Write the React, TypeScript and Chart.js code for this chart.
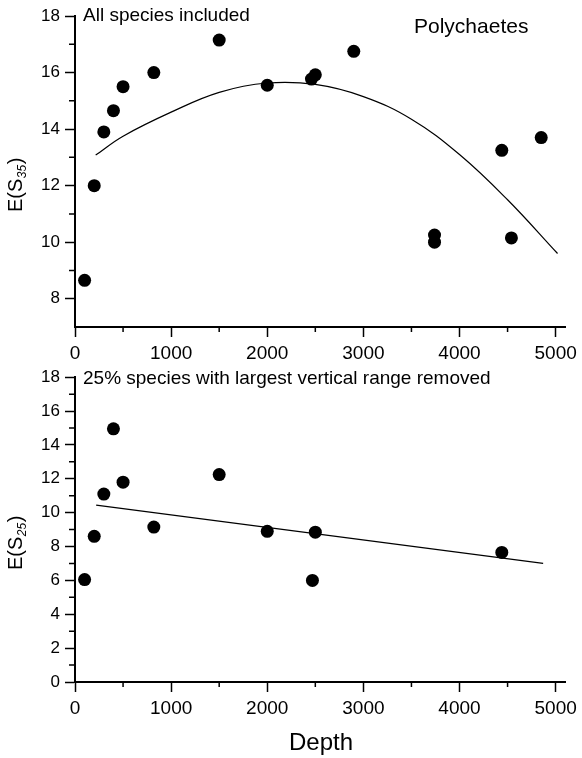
import React, { useEffect, useRef } from 'react';
import { Chart, registerables } from 'chart.js';

Chart.register(...registerables);

const FONT = "'Liberation Sans', Arial, Helvetica, sans-serif";

// ---- shared x axis ----
const xTicks = [0, 1000, 2000, 3000, 4000, 5000];
const xMinorTicks = [500, 1500, 2500, 3500, 4500];

// ---- top panel: all species included ----
const topDepth = [100, 200, 300, 400, 500, 820, 1500, 2000, 2460, 2500, 2900, 3740, 3740, 4440, 4540, 4850];
const topES35 = [8.65, 12.0, 13.9, 14.65, 15.5, 16.0, 17.15, 15.55, 15.77, 15.92, 16.75, 10.25, 10.0, 13.25, 10.15, 13.7];
const topFitDepth = [215, 500, 1000, 1500, 2000, 2500, 3000, 3500, 4000, 4500, 5020];
const topFitES35 = [13.08, 13.75, 14.6, 15.3, 15.63, 15.58, 15.15, 14.35, 13.1, 11.5, 9.6];
const topYTicks = [8, 10, 12, 14, 16, 18];
const topYMinor = [9, 11, 13, 15, 17];

// ---- bottom panel: 25% species removed ----
const botDepth = [100, 200, 300, 400, 500, 820, 1500, 2000, 2470, 2500, 4440];
const botES25 = [6.05, 8.6, 11.1, 14.95, 11.8, 9.15, 12.25, 8.9, 6.0, 8.85, 7.65];
const botFitDepth = [220, 4870];
const botFitES25 = [10.45, 7.0];
const botYTicks = [0, 2, 4, 6, 8, 10, 12, 14, 16, 18];
const botYMinor = [1, 3, 5, 7, 9, 11, 13, 15, 17];

function drawYTitle(ctx: CanvasRenderingContext2D, x: number, yBottom: number, sub: string) {
  ctx.save();
  ctx.translate(x, yBottom);
  ctx.rotate(-Math.PI / 2);
  ctx.fillStyle = '#000';
  ctx.textAlign = 'left';
  ctx.textBaseline = 'alphabetic';
  ctx.font = `20px ${FONT}`;
  ctx.fillText('E(S', 0, 0);
  let w = ctx.measureText('E(S').width + 0.5;
  ctx.font = `italic 12px ${FONT}`;
  ctx.fillText(sub, w, 4);
  w += ctx.measureText(sub).width + 0.5;
  ctx.font = `20px ${FONT}`;
  ctx.fillText(')', w, 0);
  ctx.restore();
}

type PanelProps = {
  height: number;
  top: number;
  padTop: number;
  xAxisHeight: number;
  depth: number[];
  values: number[];
  fitDepth: number[];
  fitValues: number[];
  fitTension: number;
  yMin: number;
  yMax: number;
  yTicks: number[];
  yMinor: number[];
  decorate: (ctx: CanvasRenderingContext2D) => void;
};

function Panel(p: PanelProps) {
  const ref = useRef<HTMLCanvasElement | null>(null);
  useEffect(() => {
    if (!ref.current) return;
    const minorPlugin = {
      id: 'minorTicksAndText',
      afterDraw(chart: any) {
        const ctx = chart.ctx as CanvasRenderingContext2D;
        const xs = chart.scales.x;
        const ys = chart.scales.y;
        const area = chart.chartArea;
        ctx.save();
        ctx.strokeStyle = '#000';
        ctx.lineWidth = 1.5;
        ctx.beginPath();
        xMinorTicks.forEach((v) => {
          const px = xs.getPixelForValue(v);
          ctx.moveTo(px, area.bottom);
          ctx.lineTo(px, area.bottom + 5);
        });
        p.yMinor.forEach((v) => {
          const py = ys.getPixelForValue(v);
          ctx.moveTo(area.left - 6, py);
          ctx.lineTo(area.left, py);
        });
        ctx.stroke();
        ctx.restore();
        p.decorate(ctx);
      },
    };
    const chart = new Chart(ref.current, {
      type: 'scatter',
      data: {
        datasets: [
          {
            data: p.depth.map((x, i) => ({ x, y: p.values[i] })),
            backgroundColor: '#000',
            borderColor: '#000',
            borderWidth: 0,
            pointRadius: 6.5,
            showLine: false,
          },
          {
            data: p.fitDepth.map((x, i) => ({ x, y: p.fitValues[i] })),
            showLine: true,
            borderColor: '#000',
            borderWidth: 1.2,
            pointRadius: 0,
            tension: p.fitTension,
            fill: false,
          },
        ],
      },
      options: {
        responsive: false,
        animation: false,
        devicePixelRatio: 1,
        layout: { padding: { left: 0, top: p.padTop, right: 12, bottom: 0 } },
        plugins: { legend: { display: false }, tooltip: { enabled: false }, title: { display: false } },
        scales: {
          x: {
            type: 'linear',
            min: 0,
            max: 5100,
            afterBuildTicks: (scale: any) => {
              scale.ticks = xTicks.map((v) => ({ value: v }));
            },
            afterFit: (scale: any) => {
              scale.height = p.xAxisHeight;
            },
            grid: { drawOnChartArea: false, drawTicks: true, tickLength: 10, tickColor: '#000', tickWidth: 1.5 },
            border: { display: true, color: '#000', width: 2 },
            ticks: {
              color: '#000',
              padding: 5,
              maxRotation: 0,
              autoSkip: false,
              font: { family: FONT, size: 19 },
              callback: (v: any) => String(v),
            },
          },
          y: {
            type: 'linear',
            min: p.yMin,
            max: p.yMax,
            afterBuildTicks: (scale: any) => {
              scale.ticks = p.yTicks.map((v) => ({ value: v }));
            },
            afterFit: (scale: any) => {
              scale.width = 75;
            },
            grid: { drawOnChartArea: false, drawTicks: true, tickLength: 10, tickColor: '#000', tickWidth: 1.5 },
            border: { display: true, color: '#000', width: 2 },
            ticks: {
              color: '#000',
              padding: 5,
              autoSkip: false,
              font: { family: FONT, size: 17 },
              callback: (v: any) => String(v),
            },
          },
        },
      },
      plugins: [minorPlugin],
    } as any);
    return () => chart.destroy();
  }, []);
  return (
    <canvas
      ref={ref}
      width={582}
      height={p.height}
      style={{ position: 'absolute', left: 0, top: p.top, width: 582, height: p.height }}
    />
  );
}

export default function App() {
  return (
    <div style={{ position: 'absolute', left: 0, top: 0, width: 582, height: 758, background: '#fff' }}>
      <Panel
        height={362}
        top={0}
        padTop={16}
        xAxisHeight={35}
        depth={topDepth}
        values={topES35}
        fitDepth={topFitDepth}
        fitValues={topFitES35}
        fitTension={0.4}
        yMin={7}
        yMax={18}
        yTicks={topYTicks}
        yMinor={topYMinor}
        decorate={(ctx) => {
          ctx.save();
          ctx.fillStyle = '#000';
          ctx.textBaseline = 'alphabetic';
          ctx.textAlign = 'left';
          ctx.font = `19px ${FONT}`;
          ctx.fillText('All species included', 83, 21);
          ctx.font = `21px ${FONT}`;
          ctx.fillText('Polychaetes', 414, 33);
          ctx.restore();
          drawYTitle(ctx, 22, 212, '35');
        }}
      />
      <Panel
        height={396}
        top={362}
        padTop={11}
        xAxisHeight={76}
        depth={botDepth}
        values={botES25}
        fitDepth={botFitDepth}
        fitValues={botFitES25}
        fitTension={0}
        yMin={0}
        yMax={18}
        yTicks={botYTicks}
        yMinor={botYMinor}
        decorate={(ctx) => {
          ctx.save();
          ctx.fillStyle = '#000';
          ctx.textBaseline = 'alphabetic';
          ctx.textAlign = 'left';
          ctx.font = `19px ${FONT}`;
          ctx.fillText('25% species with largest vertical range removed', 83, 22);
          ctx.font = `24px ${FONT}`;
          ctx.textAlign = 'center';
          ctx.fillText('Depth', 321, 388);
          ctx.restore();
          drawYTitle(ctx, 22, 208, '25');
        }}
      />
    </div>
  );
}
